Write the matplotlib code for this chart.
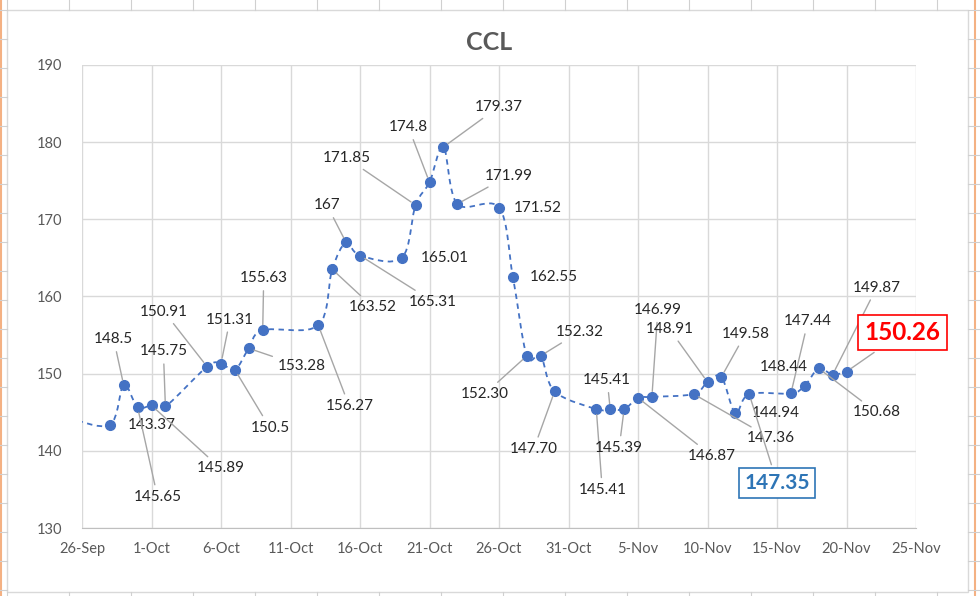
import matplotlib
matplotlib.use("Agg")
import numpy as np
import pandas as pd
import matplotlib.pyplot as plt
import matplotlib.dates as mdates
from matplotlib.path import Path
from matplotlib.patches import PathPatch, Rectangle
from matplotlib.lines import Line2D

plt.rcParams["font.family"] = ["Lato", "DejaVu Sans"]

# data (2020)
dates = [
    "2020-09-25", "2020-09-28", "2020-09-29", "2020-09-30", "2020-10-01", "2020-10-02",
    "2020-10-05", "2020-10-06", "2020-10-07", "2020-10-08", "2020-10-09",
    "2020-10-13", "2020-10-14", "2020-10-15", "2020-10-16",
    "2020-10-19", "2020-10-20", "2020-10-21", "2020-10-22", "2020-10-23",
    "2020-10-26", "2020-10-27", "2020-10-28", "2020-10-29", "2020-10-30",
    "2020-11-02", "2020-11-03", "2020-11-04", "2020-11-05", "2020-11-06",
    "2020-11-09", "2020-11-10", "2020-11-11", "2020-11-12", "2020-11-13",
    "2020-11-16", "2020-11-17", "2020-11-18", "2020-11-19", "2020-11-20",
]
values = [
    144.3, 143.37, 148.5, 145.65, 145.89, 145.75,
    150.91, 151.31, 150.5, 153.28, 155.63,
    156.27, 163.52, 167.0, 165.31,
    165.01, 171.85, 174.8, 179.37, 171.99,
    171.52, 162.55, 152.30, 152.32, 147.70,
    145.41, 145.41, 145.39, 146.87, 146.99,
    147.36, 148.91, 149.58, 144.94, 147.35,
    147.44, 148.44, 150.68, 149.87, 150.26,
]
labels = [
    None, "143.37", "148.5", "145.65", "145.89", "145.75",
    "150.91", "151.31", "150.5", "153.28", "155.63",
    "156.27", "163.52", "167", "165.31",
    "165.01", "171.85", "174.8", "179.37", "171.99",
    "171.52", "162.55", "152.30", "152.32", "147.70",
    "145.41", "145.41", "145.39", "146.87", "146.99",
    "147.36", "148.91", "149.58", "144.94", "147.35",
    "147.44", "148.44", "150.68", "149.87", "150.26",
]

# label placement: offset in pixels (right, down) and whether a leader line is drawn
label_offsets = [
    None, (42, 0, False), (-10, -46, True), (20, 90, True), (69, 63, True), (-2, -55, True),
    (-43, -55, True), (9, -44, True), (35, 58, True), (53, 18, True), (1, -52, True),
    (31, 81, True), (41, 38, True), (-19, -37, True), (73, 46, True),
    (43, 0, False), (-69, -47, True), (-21, -55, True), (55, -40, True), (51, -28, True),
    (39, 0, False), (41, 0, False), (-42, 38, True), (39, -24, True), (-21, 58, True),
    (6, 81, True), (-3, -29, True), (-5, 39, True), (74, 58, True), (6, -87, True),
    (77, 44, True), (-38, -53, True), (24, -43, True), (40, 0, False), (28, 89, True),
    (17, -72, True), (-21, -19, False), (58, 44, True), (44, -87, True), (56, -39, True),
]
highlight = {34: ("#2E75B6", 15), 39: ("#FF0000", 17.5)}

x_ticks = pd.date_range("2020-09-26", "2020-11-25", freq="5D")

LINE_BLUE = "#4472C4"
GRID = "#D9D9D9"
TEXT_GRAY = "#595959"
LEADER = "#A6A6A6"


def smooth_path(x, y):
    # Excel style smoothed line as cubic bezier segments
    verts = [(x[0], y[0])]
    codes = [Path.MOVETO]
    n = len(x)
    for i in range(n - 1):
        x0, y0 = (x[i - 1], y[i - 1]) if i > 0 else (x[i], y[i])
        x3, y3 = (x[i + 2], y[i + 2]) if i + 2 < n else (x[i + 1], y[i + 1])
        c1 = (x[i] + (x[i + 1] - x0) / 6, y[i] + (y[i + 1] - y0) / 6)
        c2 = (x[i + 1] - (x3 - x[i]) / 6, y[i + 1] - (y3 - y[i]) / 6)
        verts += [c1, c2, (x[i + 1], y[i + 1])]
        codes += [Path.CURVE4] * 3
    return Path(verts, codes)


fig = plt.figure(figsize=(9.8, 5.96), dpi=100)

# spreadsheet background behind the chart object
W, H = 980, 596
for xp in (1, 975):
    fig.add_artist(Line2D([xp / W, xp / W], [0, 1], color="#F4B183", lw=1.5))
for xp in range(7, W, 62):
    fig.add_artist(Line2D([xp / W, xp / W], [1 - 10 / H, 1], color="#D0D0D0", lw=0.8))
    fig.add_artist(Line2D([xp / W, xp / W], [0, 4 / H], color="#D0D0D0", lw=0.8))
for yp in range(10, H, 29):
    fig.add_artist(Line2D([0, 7 / W], [1 - yp / H] * 2, color="#D0D0D0", lw=0.8))
    fig.add_artist(Line2D([968 / W, 1], [1 - yp / H] * 2, color="#D0D0D0", lw=0.8))
fig.add_artist(Rectangle((7 / W, 4 / H), 961 / W, 582 / H, transform=fig.transFigure,
                         facecolor="white", edgecolor="#D9D9D9", lw=1, zorder=-1))

ax = fig.add_axes([82 / W, 1 - 528 / H, 834 / W, 463 / H])
ax.set_facecolor("none")

xd = mdates.date2num(pd.to_datetime(dates))
yv = np.array(values)

ax.add_patch(PathPatch(smooth_path(xd, yv), facecolor="none", edgecolor=LINE_BLUE,
                       lw=1.3, linestyle=(0, (3, 2.5)), zorder=3))
ax.plot(xd, yv, linestyle="none", marker="o", markersize=7, color=LINE_BLUE, zorder=4)

ax.set_xlim(mdates.date2num(x_ticks[0]), mdates.date2num(x_ticks[-1]))
ax.set_ylim(130, 190)
ax.set_xticks(mdates.date2num(x_ticks))
ax.set_xticklabels([d.strftime("%-d-%b") for d in x_ticks])
ax.set_yticks(np.arange(130, 191, 10))
ax.grid(True, color=GRID, lw=1)
ax.set_axisbelow(True)
for s in ax.spines.values():
    s.set_visible(False)
ax.spines["bottom"].set_visible(True)
ax.spines["bottom"].set_color("#BFBFBF")
ax.tick_params(length=0, labelsize=10.5, labelcolor=TEXT_GRAY)
ax.tick_params(axis="x", pad=10)
ax.tick_params(axis="y", pad=14)

for i, lab in enumerate(labels):
    if lab is None:
        continue
    dx, dy, leader = label_offsets[i]
    kw = dict(fontsize=11, color="#262626")
    if i in highlight:
        c, fs = highlight[i]
        kw = dict(fontsize=fs, color=c, fontweight="bold",
                  bbox=dict(boxstyle="square,pad=0.25", fc="white", ec=c, lw=1.2))
    arrow = dict(arrowstyle="-", color=LEADER, lw=1.0, shrinkA=2, shrinkB=4) if leader else None
    ax.annotate(lab, (xd[i], yv[i]), xytext=(dx, -dy), textcoords="offset pixels",
                ha="center", va="center", arrowprops=arrow, zorder=5, **kw)

fig.text(489 / W, 1 - 42 / H, "CCL", ha="center", va="center", fontsize=18,
         fontweight="bold", color=TEXT_GRAY)

fig.savefig("out.png", dpi=100)
